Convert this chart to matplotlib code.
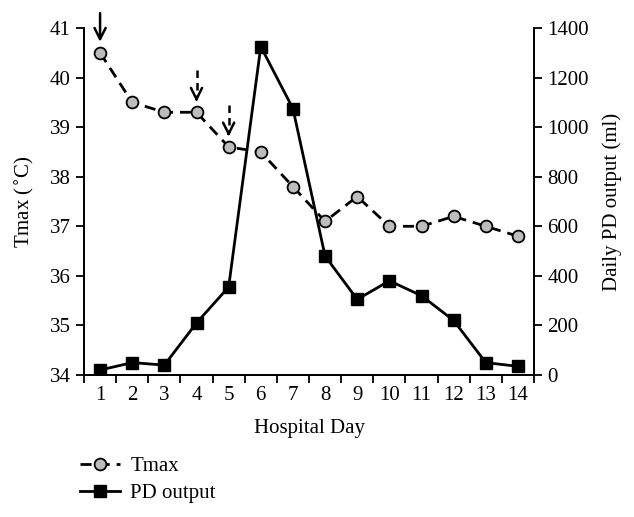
import matplotlib.pyplot as plt

plt.rcParams['font.family'] = ['Liberation Serif', 'DejaVu Serif']
plt.rcParams['font.size'] = 15

days = [1, 2, 3, 4, 5, 6, 7, 8, 9, 10, 11, 12, 13, 14]
tmax = [40.5, 39.5, 39.3, 39.3, 38.6, 38.5, 37.8, 37.1, 37.6, 37.0, 37.0, 37.2, 37.0, 36.8]
pd_output = [20, 50, 40, 210, 355, 1325, 1075, 480, 305, 380, 320, 220, 50, 35]

# arrows: solid on day 1, dashed on days 4 and 5
solid_arrow_days = [1]
dashed_arrow_days = [4, 5]

fig = plt.figure(figsize=(6.34, 5.17), dpi=100)
ax = fig.add_axes([84/634, 1 - 375/517, 450/634, 347/517])
ax2 = ax.twinx()

# PD output on the right axis
ax2.plot(days, pd_output, color='black', lw=2, marker='s', ms=8,
         markerfacecolor='black', markeredgecolor='black', label='PD output')
ax2.set_ylim(0, 1400)
ax2.set_yticks(range(0, 1401, 200))
ax2.set_ylabel('Daily PD output (ml)', labelpad=10)

# Tmax on the left axis, drawn on top
ax.set_zorder(ax2.get_zorder() + 1)
ax.patch.set_visible(False)
ax.plot(days, tmax, color='black', lw=2, ls=(0, (4, 2.5)), marker='o', ms=8.5,
        markerfacecolor='#bdbdbd', markeredgecolor='black', markeredgewidth=1.3,
        label='Tmax')
ax.set_ylim(34, 41)
ax.set_yticks(range(34, 42))
ax.set_ylabel('Tmax ($^{\\circ}$C)', labelpad=10)

ax.set_xlim(0.5, 14.5)
ax.set_xticks(days)
ax.set_xticks([d + 0.5 for d in range(0, 15)], minor=True)
ax.tick_params(axis='x', which='major', length=0, pad=8)
ax.tick_params(axis='x', which='minor', length=6, width=1.3, direction='out')
ax.set_xlabel('Hospital Day', labelpad=10)

for a in (ax, ax2):
    a.spines['top'].set_visible(False)
    for s in ('left', 'right', 'bottom'):
        a.spines[s].set_linewidth(1.3)
    a.tick_params(axis='y', length=6, width=1.3, direction='out')

arrow_head = dict(arrowstyle='->', lw=1.8, color='black', mutation_scale=20,
                  shrinkA=0, shrinkB=0)
for d in solid_arrow_days:
    t = tmax[d - 1]
    ax.annotate('', xy=(d, t + 0.22), xytext=(d, t + 0.8), arrowprops=arrow_head)
for d in dashed_arrow_days:
    t = tmax[d - 1]
    # dashed shaft, solid head
    ax.plot([d, d], [t + 0.85, t + 0.3], color='black', lw=1.8, ls=(0, (3, 2)))
    ax.annotate('', xy=(d, t + 0.21), xytext=(d, t + 0.3), arrowprops=arrow_head)

h1, l1 = ax.get_legend_handles_labels()
h2, l2 = ax2.get_legend_handles_labels()
fig.legend(h1 + h2, l1 + l2, loc='upper left', bbox_to_anchor=(70/634, 1 - 446/517),
           frameon=False, handlelength=1.9, handletextpad=0.5, labelspacing=0.35,
           borderpad=0, fontsize=15)

fig.savefig('out.png', dpi=100)
